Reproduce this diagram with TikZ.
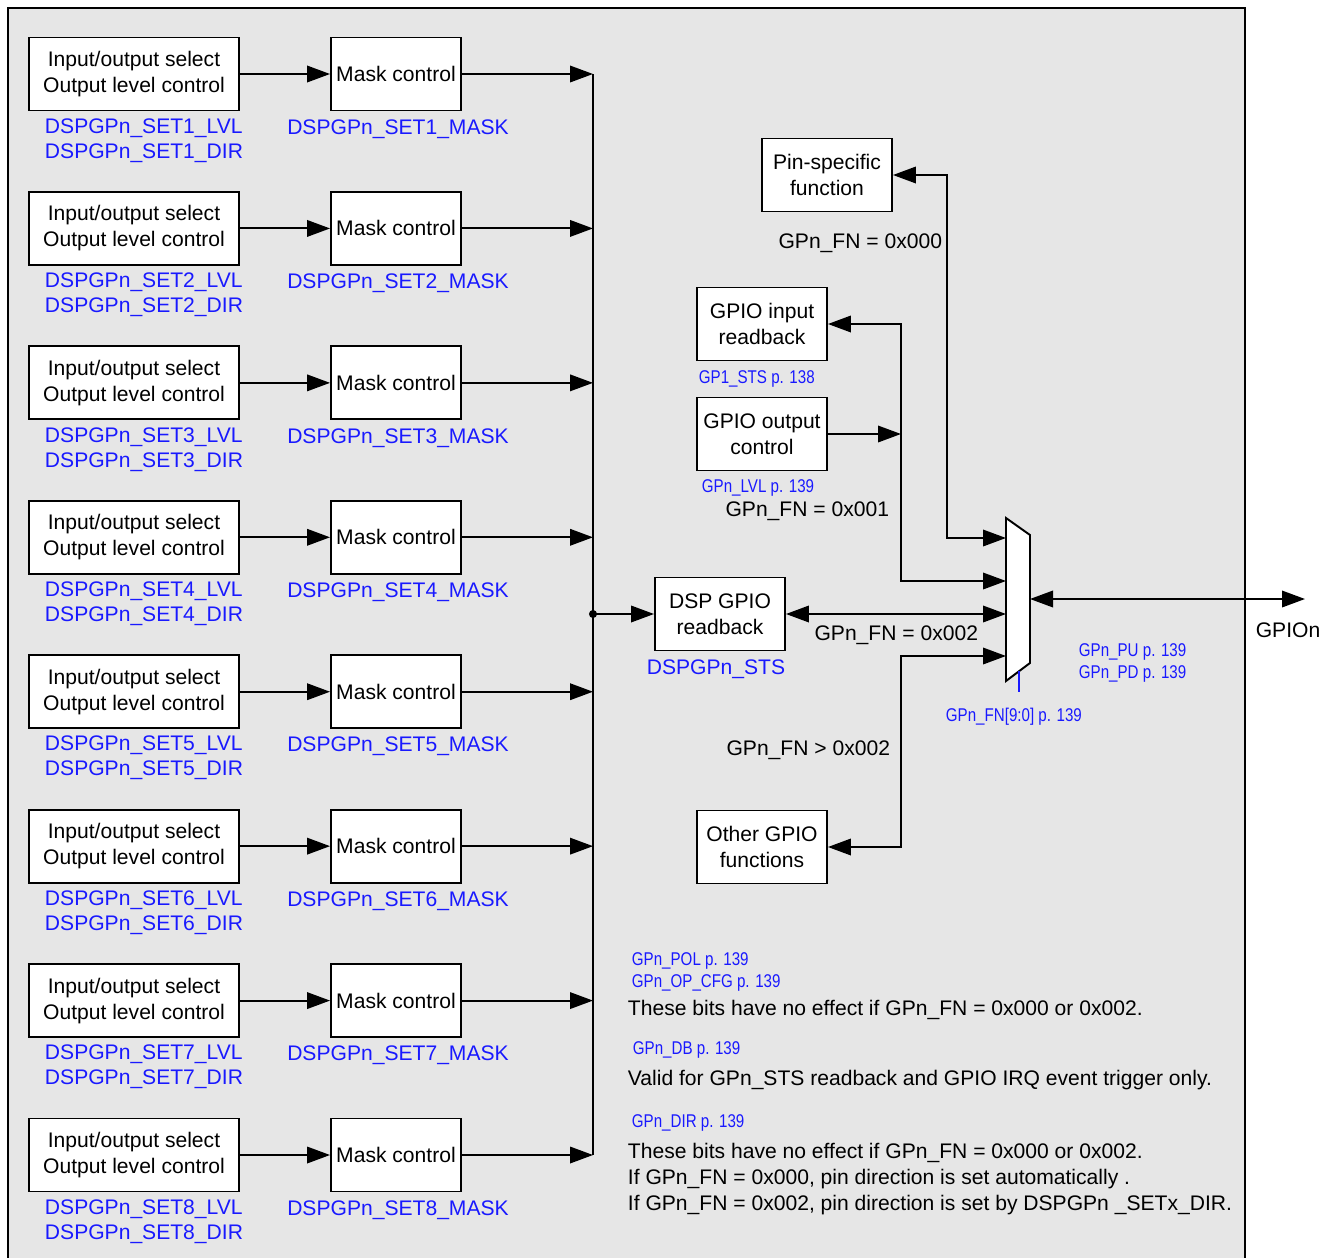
\documentclass[tikz,border=0pt]{standalone}
\usepackage{fontspec}
\setmainfont{Liberation Sans}
\newfontfamily\narrowfont[FakeStretch=0.82]{Liberation Sans}
\usepackage{xcolor}
\usetikzlibrary{arrows.meta, positioning, calc}

\definecolor{panel}{RGB}{230,230,230}
\definecolor{regblue}{RGB}{25,25,255}

\begin{document}
\begin{tikzpicture}[
        x=0.02cm, y=-0.02cm,
        >={Triangle[length=0.46cm, width=0.33cm]},
        line width=1.1pt,
        blk/.style={rectangle, draw=black, fill=white, minimum width=2.6cm, minimum height=1.46cm, inner sep=2pt, align=center, font=\fontsize{12}{14.8}\selectfont},
        reg/.style={inner sep=0pt, yshift=-1.1pt, text=regblue, align=left, font=\fontsize{12}{14.2}\selectfont},
        ref/.style={inner sep=0pt, yshift=-1.1pt, text=regblue, align=left, font=\narrowfont\fontsize{10.5}{12.5}\selectfont},
        cond/.style={inner sep=0pt, yshift=-1.1pt, align=left, font=\fontsize{12}{14.8}\selectfont}
    ]

        % ================= PANEL =================
        \useasboundingbox (0,0) rectangle (1330,1258);
        \draw[fill=panel] (8,8) rectangle (1245,1280);

        % ================= REGISTER SETS =================
        \foreach \i in {1,...,8}{
            \pgfmathsetmacro{\yy}{74+154.43*(\i-1)}
            \node[blk, minimum width=4.2cm] (io\i) at (134,\yy) {Input/output select\\Output level control};
            \node[blk] (mask\i) at (396,\yy) {Mask control};
            \coordinate (b\i) at (593,\yy);
            \node[reg, anchor=west] (lvl\i) at (44,\yy+64.5) {DSPGPn\_SET\i\_LVL\\DSPGPn\_SET\i\_DIR};
            \node[reg] (msk\i) at (398,\yy+53) {DSPGPn\_SET\i\_MASK};
            \draw[->] (io\i) -- (mask\i);
            \draw[->] (mask\i) -- (b\i);
        }
        \draw (b1) -- (b8);

        % DSP readback
        \coordinate (junc) at (593,614);
        \fill (junc) circle (2.3pt);
        \node[blk] (dspr) at (720,614) {DSP GPIO\\readback};
        \node[reg] (sts) at (716,667) {DSPGPn\_STS};
        \draw[->] (junc) -- (dspr);

        % ================= FUNCTION BLOCKS =================
        \node[blk] (pin) at (827,175) {Pin-specific\\function};
        \node[blk] (gin) at (762,324) {GPIO input\\readback};
        \node[blk] (gout) at (762,434) {GPIO output\\control};
        \node[blk] (oth) at (762,847) {Other GPIO\\functions};

        % Multiplexer
        \draw[fill=white] (1006,518) -- (1030,535) -- (1030,663) -- (1006,681) -- cycle;
        \coordinate (mx1) at (1006,538);
        \coordinate (mx2) at (1006,581);
        \coordinate (mx3) at (1006,614);
        \coordinate (mx4) at (1006,656);
        \coordinate (mxo) at (1030,599);
        \coordinate (sel) at (1019,671);
        \coordinate (seltail) at (1019,692);
        \draw[regblue] (sel) -- (seltail);

        % ================= WIRES =================
        \coordinate (k1) at (947,538);
        \coordinate (k2) at (901,581);
        \coordinate (k4) at (901,656);
        \draw[<->] (pin.east) -| (k1) -- (mx1);
        \draw[<->] (gin.east) -| (k2) -- (mx2);
        \draw[->] (gout.east) -- (gout.east -| k2);
        \draw[<->] (dspr.east) -- (mx3);
        \draw[<->] (oth.east) -| (k4) -- (mx4);

        % Pin
        \coordinate (pad) at (1305,599);
        \draw[<->] (mxo) -- (pad);
        \node[cond] (gpion) at (1288,628) {GPIOn};

        % ================= LABELS =================
        \node[cond, anchor=east] (fn0) at (943,241) {GPn\_FN = 0x000};
        \node[cond, anchor=east] (fn1) at (890,509) {GPn\_FN = 0x001};
        \node[cond, anchor=east] (fn2) at (979,633) {GPn\_FN = 0x002};
        \node[cond, anchor=east] (fn3) at (891,748) {GPn\_FN > 0x002};

        \node[ref, anchor=west] (rsts) at (698,377) {GP1\_STS p. 138};
        \node[ref, anchor=west] (rlvl) at (701,486) {GPn\_LVL p. 139};
        \node[ref, anchor=west] (rpu) at (1078,661) {GPn\_PU p. 139\\GPn\_PD p. 139};
        \node[ref, anchor=west] (rfn) at (945,715) {GPn\_FN[9:0] p. 139};
        \node[ref, anchor=west] (rpol) at (631,970) {GPn\_POL p. 139\\GPn\_OP\_CFG p. 139};
        \node[ref, anchor=west] (rdb) at (632,1048) {GPn\_DB p. 139};
        \node[ref, anchor=west] (rdir) at (631,1121) {GPn\_DIR p. 139};

        % Notes
        \node[cond, anchor=west] (npol) at (627,1008) {These bits have no effect if GPn\_FN = 0x000 or 0x002.};
        \node[cond, anchor=west] (ndb) at (627,1078) {Valid for GPn\_STS readback and GPIO IRQ event trigger only.};
        \node[cond, anchor=west] (ndir) at (627,1177) {These bits have no effect if GPn\_FN = 0x000 or 0x002.\\If GPn\_FN = 0x000, pin direction is set automatically .\\If GPn\_FN = 0x002, pin direction is set by DSPGPn \_SETx\_DIR.};

    \end{tikzpicture}
\end{document}
